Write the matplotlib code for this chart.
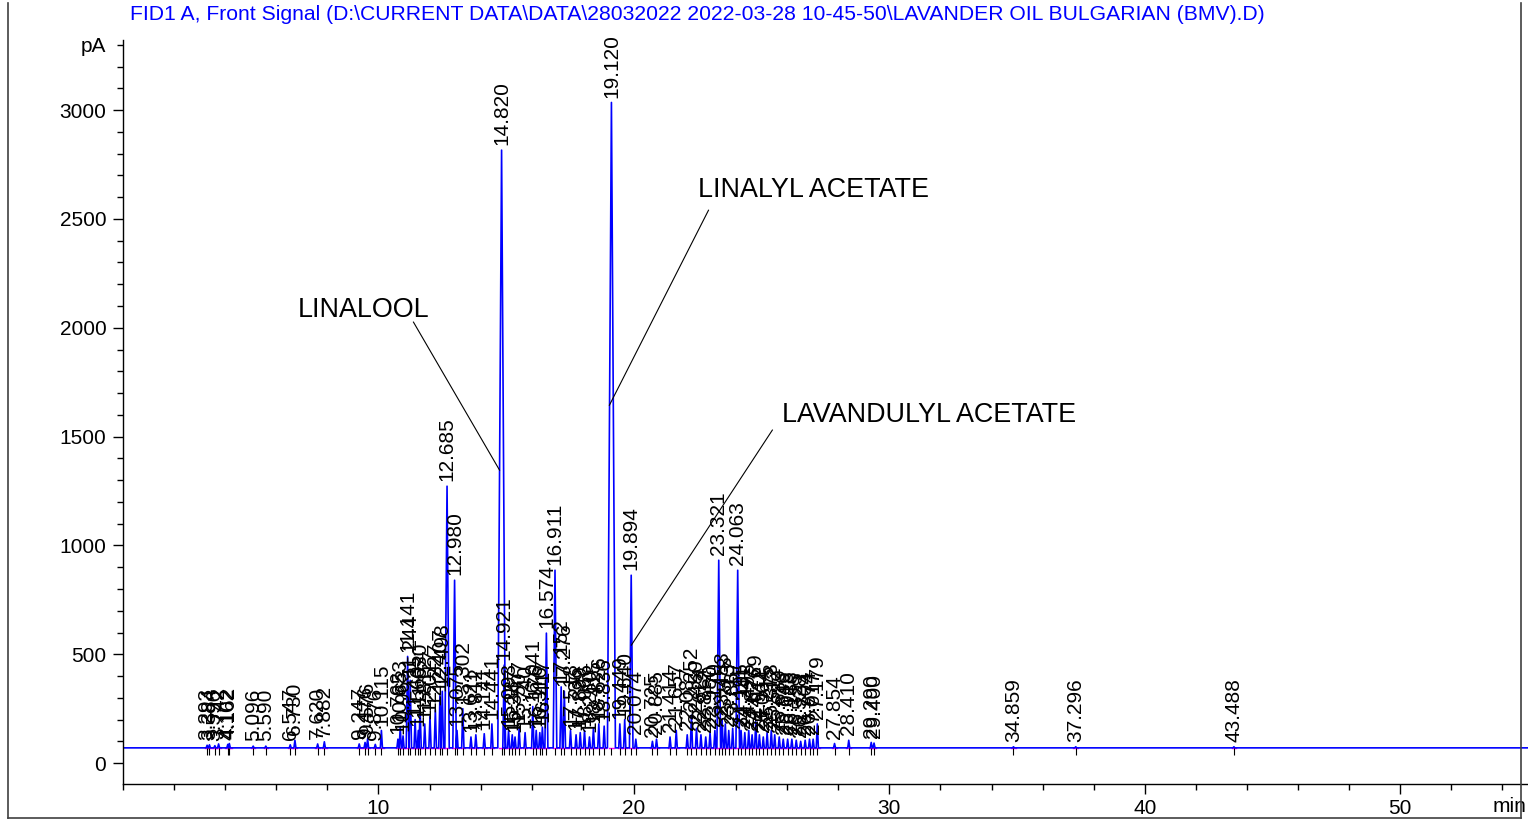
import numpy as np
import matplotlib
matplotlib.use('Agg')
import matplotlib.pyplot as plt
from matplotlib.lines import Line2D
from matplotlib.ticker import MultipleLocator

plt.rcParams['font.family'] = ['Liberation Sans', 'DejaVu Sans']

title = ('FID1 A, Front Signal (D:\\CURRENT DATA\\DATA\\28032022 '
         '2022-03-28 10-45-50\\LAVANDER OIL BULGARIAN (BMV).D)')

baseline = 70

# retention time (min) and apex signal (pA)
rt = [3.293, 3.384, 3.596, 3.742, 4.102, 4.162, 5.096, 5.590, 6.547, 6.730,
      7.620, 7.882, 9.247, 9.476, 9.576, 9.876, 10.115, 10.762, 10.853, 10.963,
      11.141, 11.244, 11.435, 11.560, 11.630, 11.812, 12.017, 12.227, 12.407, 12.498,
      12.685, 12.980, 13.075, 13.302, 13.621, 13.812, 14.141, 14.441, 14.820, 14.921,
      15.093, 15.237, 15.347, 15.507, 15.740, 16.041, 16.176, 16.316, 16.417, 16.574,
      16.911, 17.152, 17.276, 17.518, 17.736, 17.899, 18.066, 18.260, 18.415, 18.626,
      18.836, 19.120, 19.449, 19.640, 19.894, 20.074, 20.725, 20.885, 21.414, 21.657,
      22.087, 22.252, 22.450, 22.624, 22.812, 22.980, 23.170, 23.321, 23.453, 23.578,
      23.713, 23.867, 24.063, 24.195, 24.341, 24.495, 24.627, 24.769, 24.912, 25.064,
      25.215, 25.378, 25.512, 25.689, 25.846, 26.018, 26.183, 26.355, 26.528, 26.704,
      26.874, 27.017, 27.179, 27.854, 28.410, 29.290, 29.400, 34.859, 37.296, 43.488]
apex = [82, 84, 80, 88, 86, 90, 78, 78, 84, 105,
        88, 98, 88, 95, 112, 86, 150, 110, 165, 125,
        490, 380, 200, 150, 250, 180, 215, 245, 310, 330,
        1272, 840, 150, 250, 120, 130, 135, 180, 2816, 450,
        150, 130, 120, 160, 140, 260, 150, 140, 165, 597,
        886, 350, 330, 150, 130, 140, 150, 120, 160, 180,
        170, 3035, 180, 200, 863, 110, 100, 110, 120, 150,
        130, 220, 160, 130, 120, 140, 150, 932, 200, 180,
        150, 160, 886, 150, 140, 150, 130, 190, 130, 120,
        140, 150, 130, 120, 110, 110, 110, 105, 100, 105,
        110, 110, 180, 90, 105, 95, 92, 75, 75, 75]

# compound call-outs
names = ['LINALOOL', 'LINALYL ACETATE', 'LAVANDULYL ACETATE']
name_pos = [(6.83, 2081), (22.49, 2632), (25.81, 1599)]
pointer_from = [(11.37, 2026), (22.92, 2540), (25.42, 1530)]
pointer_to = [(14.74, 1346), (19.04, 1644), (19.90, 542)]

W, H = 1528, 821
fig = plt.figure(figsize=(W / 100, H / 100), dpi=100)
ax = fig.add_axes([123 / W, 37 / H, 1405 / W, 744 / H])

# trace: narrow peaks on a flat baseline
xs, ys = [0.0], [baseline]
for r, h in sorted(zip(rt, apex)):
  w = 0.035 + h * 0.00004
  xs += [r - w, r, r + w]
  ys += [baseline, h, baseline]
xs.append(55.0)
ys.append(baseline)

for r in rt:
  ax.plot([r - 0.09, r + 0.09], [baseline - 2, baseline - 2], color='#ff00ff', lw=1.0, zorder=1)
ax.plot(xs, ys, color='#0000ff', lw=1.2, zorder=2)
ax.vlines(rt, 37, baseline - 2, color='k', lw=0.8, zorder=3)

for r, h in zip(rt, apex):
  ax.text(r, h + 22, f'{r:.3f}', rotation=90, ha='center', va='bottom', fontsize=15)

for name, tp, p0, p1 in zip(names, name_pos, pointer_from, pointer_to):
  ax.text(tp[0], tp[1], name, ha='left', va='center', fontsize=19.4)
  ax.plot([p0[0], p1[0]], [p0[1], p1[1]], color='k', lw=0.8)

ax.set_xlim(0, 55)
ax.set_ylim(-96, 3322)
for s in ['top', 'right']:
  ax.spines[s].set_visible(False)
for s in ['left', 'bottom']:
  ax.spines[s].set_linewidth(1.0)

ax.xaxis.set_minor_locator(MultipleLocator(2))
ax.set_xticks([10, 20, 30, 40, 50])
ax.set_yticks([0, 500, 1000, 1500, 2000, 2500, 3000, 3300])
ax.set_yticklabels(['0', '500', '1000', '1500', '2000', '2500', '3000', 'pA'])
ax.yaxis.set_minor_locator(MultipleLocator(100))
ax.tick_params(axis='both', which='major', length=7, width=1, labelsize=15, direction='out')
ax.tick_params(axis='y', which='major', pad=5)
ax.tick_params(axis='both', which='minor', length=4, width=1, direction='out')
ax.yaxis.get_major_ticks()[-1].tick1line.set_markersize(4)

ax.annotate('min', xy=(1, 0), xycoords='axes fraction', xytext=(-1, -9),
            textcoords='offset points', ha='right', va='top', fontsize=15)

fig.text(130 / W, 1 - 15 / H, title, color='#0000ff', fontsize=15.2, ha='left', va='center')

# outer frame
fx0, fx1, fy0 = 8 / W, 1521 / W, 1 - 818 / H
fig.add_artist(Line2D([fx0, fx0], [fy0, 1 - 3 / H], transform=fig.transFigure, color='#404040', lw=1.2))
fig.add_artist(Line2D([fx0, fx1], [fy0, fy0], transform=fig.transFigure, color='#404040', lw=1.2))
fig.add_artist(Line2D([fx1, fx1], [fy0, 1 - 3 / H], transform=fig.transFigure, color='#404040', lw=1.2))

fig.savefig('out.png', dpi=100)
